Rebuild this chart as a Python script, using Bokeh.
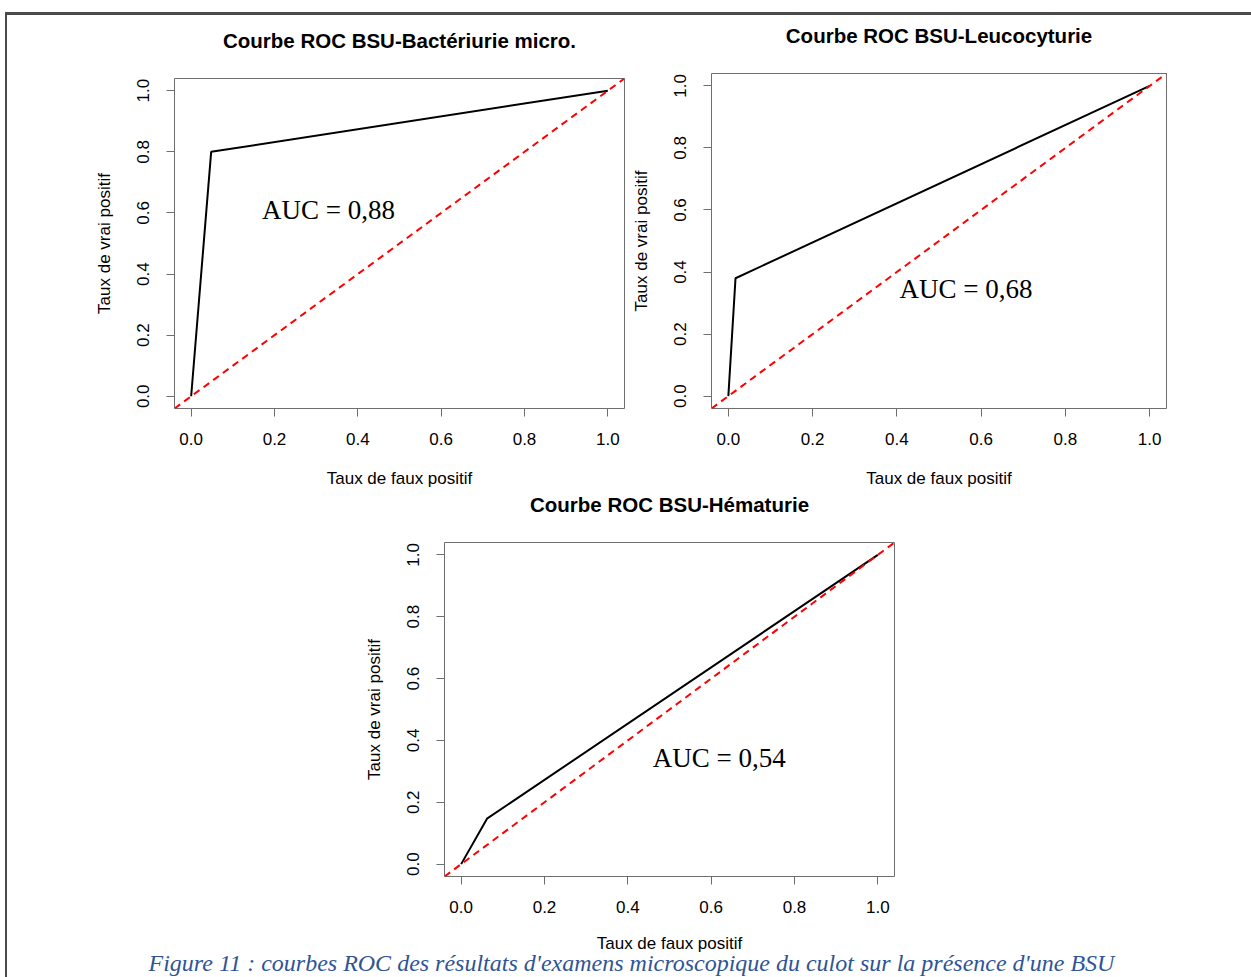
from bokeh.plotting import figure
from bokeh.layouts import column, row
from bokeh.models import Range1d, FixedTicker, Slope, Label, Title, NumeralTickFormatter, Spacer
from bokeh.embed import file_html
from bokeh.resources import INLINE

# ---- data ----
titles = ["Courbe ROC BSU-Bactériurie micro.",
          "Courbe ROC BSU-Leucocyturie",
          "Courbe ROC BSU-Hématurie"]
fpr_bact = [0.0, 0.048, 1.0]
tpr_bact = [0.0, 0.80, 1.0]
fpr_leuco = [0.0, 0.017, 1.0]
tpr_leuco = [0.0, 0.38, 1.0]
fpr_hema = [0.0, 0.062, 1.0]
tpr_hema = [0.0, 0.147, 1.0]
auc_texts = ["AUC = 0,88", "AUC = 0,68", "AUC = 0,54"]
tick_values = [0.0, 0.2, 0.4, 0.6, 0.8, 1.0]
x_label = "Taux de faux positif"
y_label = "Taux de vrai positif"
caption = "Figure 11 : courbes ROC des résultats d'examens microscopique du culot sur la présence d'une BSU"

# label anchor positions (data units) for the AUC texts
auc_pos = [(0.17, 0.61), (0.406, 0.346), (0.46, 0.343)]

SANS = "Liberation Sans"
SERIF = "Liberation Serif"
AX_COL = "#6e6e6e"


def make_panel(title, fpr, tpr, auc_text, pos, width, height, mbl, mbr, mbt, mbb,
               xlab_standoff=21):
    p = figure(width=width, height=height, output_backend="svg", toolbar_location=None,
               x_range=Range1d(-0.04, 1.04), y_range=Range1d(-0.04, 1.04),
               min_border_left=mbl, min_border_right=mbr,
               min_border_top=mbt, min_border_bottom=mbb,
               background_fill_color="white", border_fill_color="white",
               title=None)
    # spacer between frame and title (nearest to frame), then the title itself
    p.add_layout(Title(text=" ", text_font_size="1px", standoff=24), "above")
    p.add_layout(Title(text=title, align="center", text_font=SANS,
                       text_font_size="20.5px", text_font_style="bold",
                       text_color="black", standoff=0), "above")
    p.grid.visible = False
    p.outline_line_color = AX_COL
    p.outline_line_width = 1
    p.outline_line_alpha = 1
    for ax in (p.xaxis[0], p.yaxis[0]):
        ax.ticker = FixedTicker(ticks=tick_values)
        ax.formatter = NumeralTickFormatter(format="0.0")
        ax.minor_tick_line_color = None
        ax.axis_line_color = None
        ax.major_tick_line_color = AX_COL
        ax.major_tick_in = 0
        ax.major_tick_out = 8
        ax.major_label_text_font = SANS
        ax.major_label_text_font_size = "17px"
        ax.major_label_text_color = "black"
        ax.axis_label_text_font = SANS
        ax.axis_label_text_font_size = "17px"
        ax.axis_label_text_font_style = "normal"
        ax.axis_label_text_color = "black"
    p.xaxis.axis_label = x_label
    p.yaxis.axis_label = y_label
    p.xaxis.major_label_standoff = 16
    p.xaxis.axis_label_standoff = xlab_standoff
    p.yaxis.major_label_orientation = "vertical"
    p.yaxis.major_label_standoff = 17
    p.yaxis.axis_label_standoff = 21

    p.add_layout(Slope(gradient=1, y_intercept=0, line_color="red",
                       line_dash="7 5", line_width=2))
    p.line(fpr, tpr, line_color="black", line_width=2)
    p.add_layout(Label(x=pos[0], y=pos[1], text=auc_text, text_font=SERIF,
                       text_font_size="27px", text_baseline="middle",
                       text_align="left", text_color="black"))
    return p


p1 = make_panel(titles[0], fpr_bact, tpr_bact, auc_texts[0], auc_pos[0],
                621, 470, 167, 4, 58, 80)
p2 = make_panel(titles[1], fpr_leuco, tpr_leuco, auc_texts[1], auc_pos[1],
                623, 475, 83, 85, 58, 80)
p3 = make_panel(titles[2], fpr_hema, tpr_hema, auc_texts[2], auc_pos[2],
                1244, 487, 437, 357, 52, 101, xlab_standoff=18)

cap = Title(text=caption, align="left", offset=-296, text_font=SERIF,
            text_font_size="24px", text_font_style="italic",
            text_color="#2F5496", standoff=-16)
p3.add_layout(cap, "below")

layout = column(row(column(Spacer(width=621, height=5), p1), p2), p3,
                margin=(12, 0, 0, 5),
                styles={"border-top": "3px solid #4a4a4a",
                        "border-left": "2px solid #4a4a4a"})

open("out.html", "w").write(file_html(layout, INLINE))
